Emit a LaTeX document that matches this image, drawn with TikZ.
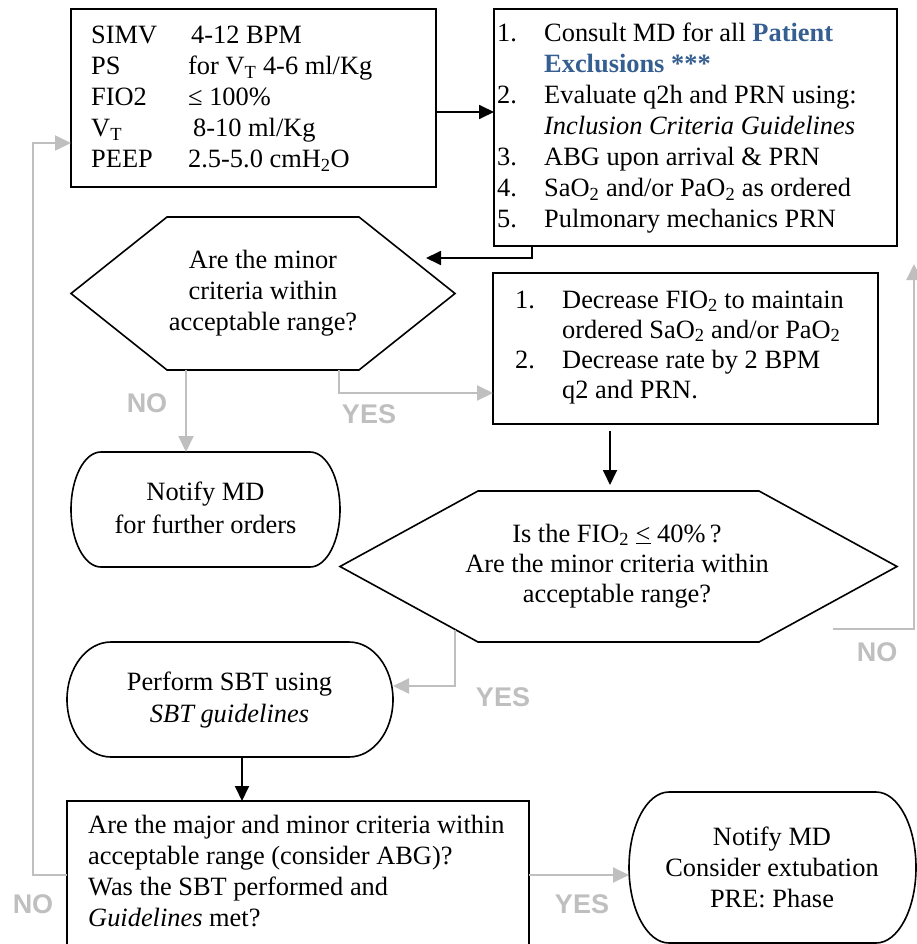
\documentclass[tikz,border=0pt]{standalone}
\usepackage{fontspec}
\setmainfont{Liberation Serif}
\newfontfamily\labelfont{Liberation Sans}
\usetikzlibrary{arrows.meta}
\definecolor{xblue}{HTML}{365F91}
\definecolor{xgray}{HTML}{BFBFBF}
\newcommand\hexpath[2]{\draw[shapeline] (#1.west) -- ([xshift=#2]#1.north west) -- ([xshift=-#2]#1.north east) -- (#1.east) -- ([xshift=-#2]#1.south east) -- ([xshift=#2]#1.south west) -- cycle;}
\newcommand\stadpath[3]{\draw[shapeline] ([xshift=#2]#1.north west) -- ([xshift=-#2]#1.north east) arc[start angle=90, end angle=-90, x radius=#2, y radius=#3] -- ([xshift=#2]#1.south west) arc[start angle=270, end angle=90, x radius=#2, y radius=#3] -- cycle;}
\tikzset{
  shapeline/.style={line width=1.6pt, line join=miter, black},
  frame/.style={draw=none, rectangle, inner sep=0pt, outer sep=0pt},
  boxframe/.style={draw, rectangle, line width=1.6pt, inner sep=0pt, outer sep=0pt},
  txt/.style={inner sep=0pt, font=\fontsize{26.4}{31}\selectfont},
  arr/.style={line width=1.8pt, black, -{Triangle[length=15pt,width=14pt]}},
  garr/.style={line width=2pt, xgray, -{Triangle[length=16pt,width=15pt]}},
  lbl/.style={inner sep=0pt, text=xgray, font=\labelfont\bfseries\fontsize{27}{30}\selectfont}
}
\begin{document}
\begin{tikzpicture}[x=1pt,y=-1pt]
\useasboundingbox (0,0) rectangle (917,944);
\clip (0,0) rectangle (917,944);

% boxes and shapes
\node[boxframe, minimum width=365pt, minimum height=178pt, anchor=north west] (tl) at (71,9) {};
\node[boxframe, line width=1.4pt, minimum width=403pt, minimum height=237pt, anchor=north west] (tr) at (494,9) {};
\node[frame, minimum width=384pt, minimum height=153pt] (h1) at (263,293.5) {};
\hexpath{h1}{96pt}
\node[boxframe, line width=1.4pt, minimum width=385pt, minimum height=151pt, anchor=north west] (b2) at (493,273) {};
\node[frame, minimum width=269pt, minimum height=115pt, anchor=north west] (n1) at (71,452) {};
\stadpath{n1}{30pt}{57.5pt}
\node[frame, minimum width=557pt, minimum height=151pt] (h2) at (618.5,566.5) {};
\hexpath{h2}{138pt}
\node[frame, minimum width=326pt, minimum height=115pt, anchor=north west] (sbt) at (67,642) {};
\stadpath{sbt}{44pt}{57.5pt}
\node[boxframe, minimum width=462pt, minimum height=159pt, anchor=north west] (bb) at (67,801) {};
\node[frame, minimum width=287pt, minimum height=151pt, anchor=north west] (rs) at (629,792) {};
\stadpath{rs}{40pt}{75.5pt}

% texts
\node[txt, anchor=base west] (tlt) at (91,43.3) {\begin{tabular}[t]{@{}p{97pt}@{}l@{}}
SIMV & \hspace{3pt}4-12 BPM\\
PS & for V\textsubscript{T} 4-6 ml/Kg\\
FIO2 & ≤ 100\%\\
V\textsubscript{T} & \hspace{5pt}8-10 ml/Kg\\
PEEP & 2.5-5.0 cmH\textsubscript{2}O
\end{tabular}};

\node[txt, anchor=base west] (trt) at (497,42) {\begin{tabular}[t]{@{}p{47pt}@{}l@{}}
1. & Consult MD for all \textcolor{xblue}{\textbf{Patient}}\\
 & \textcolor{xblue}{\textbf{Exclusions ***}}\\
2. & Evaluate q2h and PRN using:\\
 & \textit{Inclusion Criteria Guidelines}\\
3. & ABG upon arrival \& PRN\\
4. & SaO\textsubscript{2} and/or PaO\textsubscript{2} as ordered\\
5. & Pulmonary mechanics PRN
\end{tabular}};

\node[txt, anchor=base] (h1t) at (263,268) {\begin{tabular}[t]{@{}c@{}}
Are the minor\\ criteria within\\ acceptable range?
\end{tabular}};

\node[txt, font=\fontsize{26.4}{30}\selectfont, anchor=base west] (b2t) at (515,308) {\begin{tabular}[t]{@{}p{47pt}@{}l@{}}
1. & Decrease FIO\textsubscript{2} to maintain\\
 & ordered SaO\textsubscript{2} and/or PaO\textsubscript{2}\\
2. & Decrease rate by 2 BPM\\
 & q2 and PRN.
\end{tabular}};

\node[txt, font=\fontsize{26.4}{33}\selectfont, anchor=base] (n1t) at (205.5,500) {\begin{tabular}[t]{@{}c@{}}
Notify MD\\ for further orders
\end{tabular}};

\node[txt, font=\fontsize{26.4}{30}\selectfont, anchor=base] (h2t) at (617,542) {\begin{tabular}[t]{@{}c@{}}
Is the FIO\textsubscript{2} \underline{<} 40\%\,?\\ Are the minor criteria within\\ acceptable range?
\end{tabular}};

\node[txt, font=\fontsize{26.4}{32}\selectfont, anchor=base] (sbtt) at (229.5,690) {\begin{tabular}[t]{@{}c@{}}
Perform SBT using\\ \textit{SBT guidelines}
\end{tabular}};

\node[txt, font=\fontsize{26.4}{31.3}\selectfont, anchor=base west] (bbt) at (88,833) {\begin{tabular}[t]{@{}l@{}}
Are the major and minor criteria within\\
acceptable range (consider ABG)?\\
Was the SBT performed and\\
\textit{Guidelines} met?
\end{tabular}};

\node[txt, anchor=base] (rst) at (772,845) {\begin{tabular}[t]{@{}c@{}}
Notify MD\\ Consider extubation\\ PRE: Phase
\end{tabular}};

% connectors
\draw[arr] ([yshift=-14pt]tl.east) coordinate (a1) -- (a1 -| tr.west);
\draw[arr] ([xshift=38pt]tr.south west) |- ([xshift=-29pt,yshift=35.5pt]h1.east);
\draw[garr] ([xshift=-77pt]h1.south) coordinate (a3) -- (a3 |- n1.north);
\draw[garr] ([xshift=76pt]h1.south) |- ([yshift=-44.5pt]b2.west);
\draw[arr, shorten <=7pt, shorten >=6pt] ([xshift=-75.5pt]b2.south) coordinate (a5) -- (a5 |- h2.north);
\draw[garr] ([xshift=-64pt,yshift=13pt]h2.south east) -| ([xshift=17pt,yshift=-18pt]tr.south east);
\draw[garr] ([xshift=115pt,yshift=12.5pt]h2.south west) |- ([yshift=13.5pt]sbt.east);
\draw[arr] ([xshift=12pt]sbt.south) coordinate (a8) -- (a8 |- bb.north);
\draw[garr] ([yshift=5.5pt]bb.west) -- ++(-34,0) |- ([yshift=-45pt]tl.west);
\draw[garr] ([yshift=5.5pt]bb.east) coordinate (a10) -- (a10 -| rs.west);

% labels
\node[lbl] (l1) at (147,403) {NO};
\node[lbl] (l2) at (369,414) {YES};
\node[lbl] (l3) at (877,652) {NO};
\node[lbl] (l4) at (503,697) {YES};
\node[lbl] (l5) at (33,904) {NO};
\node[lbl] (l6) at (582,904) {YES};
\end{tikzpicture}
\end{document}
